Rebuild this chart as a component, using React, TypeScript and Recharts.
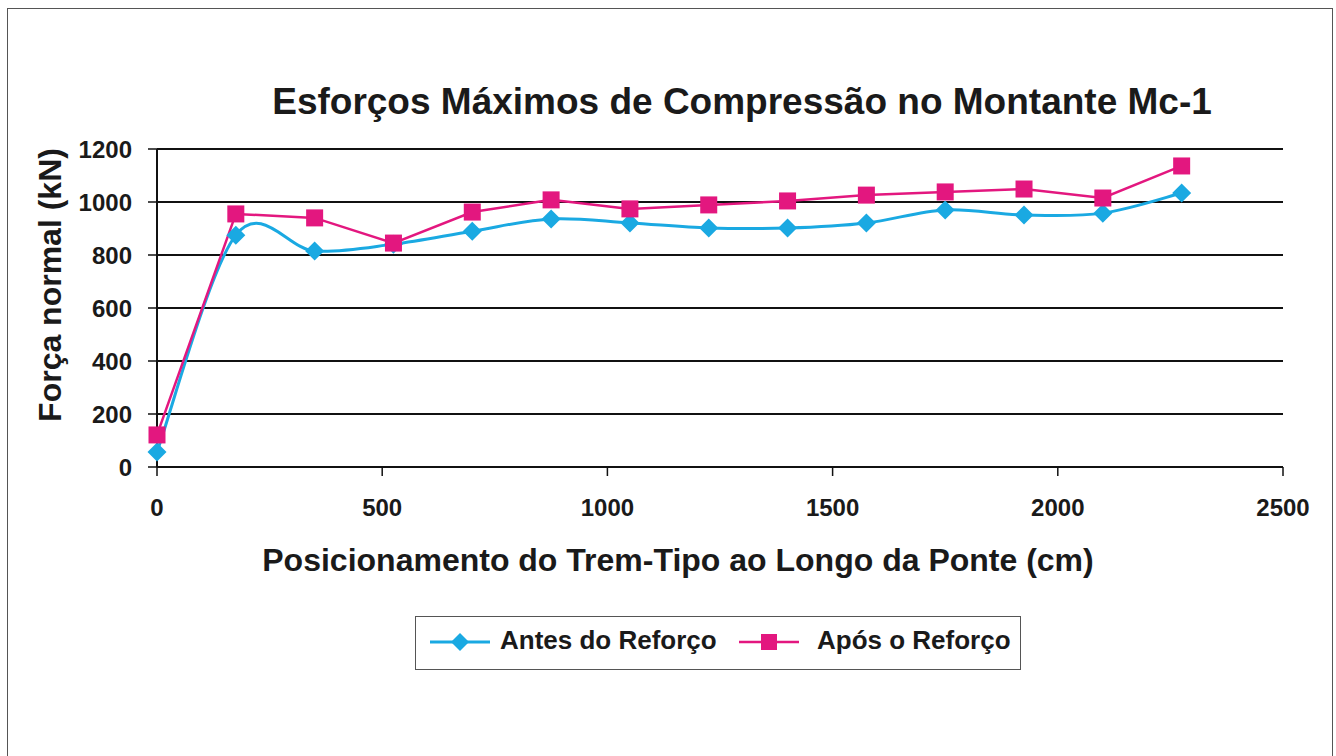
import React from "react";
import { LineChart, Line, XAxis, YAxis, CartesianGrid } from "recharts";

const positions = [0, 175, 350, 525, 700, 875, 1050, 1225, 1400, 1575, 1750, 1925, 2100, 2275];
const antes = [57, 875, 815, 841, 890, 936, 921, 902, 902, 921, 970, 951, 958, 1034];
const apos = [121, 955, 940, 845, 962, 1008, 974, 989, 1004, 1026, 1038, 1049, 1015, 1136];
const xTicks = [0, 500, 1000, 1500, 2000, 2500];
const yTicks = [0, 200, 400, 600, 800, 1000, 1200];

const data = positions.map((x, i) => ({ x, antes: antes[i], apos: apos[i] }));

const FONT = "'Liberation Sans', Arial, sans-serif";
const CYAN = "#1aa9e2";
const MAGENTA = "#e3177f";
const TEXT = "#1a1a1a";

// Catmull-Rom style smoothing (similar to Excel smoothed lines)
const smoothCurve: any = (context: any) => {
  let pts: number[][] = [];
  return {
    areaStart() {},
    areaEnd() {},
    lineStart() {
      pts = [];
    },
    point(x: number, y: number) {
      pts.push([+x, +y]);
    },
    lineEnd() {
      if (!pts.length) return;
      context.moveTo(pts[0][0], pts[0][1]);
      for (let i = 0; i < pts.length - 1; i++) {
        const p0 = pts[i - 1] || pts[i];
        const p1 = pts[i];
        const p2 = pts[i + 1];
        const p3 = pts[i + 2] || pts[i + 1];
        const c1x = p1[0] + (p2[0] - p0[0]) / 6;
        const c1y = p1[1] + (p2[1] - p0[1]) / 6;
        const c2x = p2[0] - (p3[0] - p1[0]) / 6;
        const c2y = p2[1] - (p3[1] - p1[1]) / 6;
        context.bezierCurveTo(c1x, c1y, c2x, c2y, p2[0], p2[1]);
      }
    },
  };
};

const Diamond = (props: any) => {
  const { cx, cy } = props;
  if (cx == null || cy == null) return null;
  const r = 9.5;
  return (
    <path
      d={`M${cx},${cy - r}L${cx + r},${cy}L${cx},${cy + r}L${cx - r},${cy}Z`}
      fill={CYAN}
      stroke="none"
    />
  );
};

const Square = (props: any) => {
  const { cx, cy } = props;
  if (cx == null || cy == null) return null;
  const s = 8.5;
  return <rect x={cx - s} y={cy - s} width={2 * s} height={2 * s} fill={MAGENTA} />;
};

const tickStyle = { fill: TEXT, fontSize: 24, fontWeight: "bold", fontFamily: FONT };

export default function App() {
  return (
    <div
      style={{
        position: "absolute",
        left: 0,
        top: 0,
        width: 1336,
        height: 756,
        background: "#fff",
        fontFamily: FONT,
        overflow: "hidden",
      }}
    >
      <div
        style={{
          position: "absolute",
          left: 7,
          top: 8,
          width: 1326,
          height: 760,
          border: "1.5px solid #555",
          boxSizing: "border-box",
        }}
      />
      <LineChart
        width={1336}
        height={756}
        data={data}
        margin={{ top: 149, right: 53, bottom: 229, left: 97 }}
        style={{ position: "absolute", left: 0, top: 0 }}
      >
        <CartesianGrid vertical={false} stroke="#111" strokeWidth={2} />
        <XAxis
          dataKey="x"
          type="number"
          domain={[0, 2500]}
          ticks={xTicks}
          axisLine={{ stroke: "#111", strokeWidth: 2 }}
          tickLine={{ stroke: "#111", strokeWidth: 1.5 }}
          tickSize={9}
          tick={tickStyle}
          tickMargin={23}
          height={60}
        />
        <YAxis
          type="number"
          domain={[0, 1200]}
          ticks={yTicks}
          width={60}
          axisLine={{ stroke: "#111", strokeWidth: 2 }}
          tickLine={{ stroke: "#111", strokeWidth: 1.5 }}
          tickSize={9}
          tick={tickStyle}
          tickMargin={16}
        />
        <Line
          dataKey="antes"
          type={smoothCurve}
          stroke={CYAN}
          strokeWidth={3}
          dot={<Diamond />}
          isAnimationActive={false}
        />
        <Line
          dataKey="apos"
          type="linear"
          stroke={MAGENTA}
          strokeWidth={2.5}
          dot={<Square />}
          isAnimationActive={false}
        />
      </LineChart>
      <div
        style={{
          position: "absolute",
          left: 0,
          width: 1484,
          top: 81,
          textAlign: "center",
          fontSize: 37,
          fontWeight: "bold",
          color: TEXT,
          whiteSpace: "nowrap",
        }}
      >
        Esforços Máximos de Compressão no Montante Mc-1
      </div>
      <div
        style={{
          position: "absolute",
          left: 0,
          width: 1356,
          top: 542,
          textAlign: "center",
          fontSize: 32,
          fontWeight: "bold",
          color: TEXT,
          whiteSpace: "nowrap",
        }}
      >
        Posicionamento do Trem-Tipo ao Longo da Ponte (cm)
      </div>
      <div style={{ position: "absolute", left: 50, top: 285, width: 0, height: 0 }}>
        <div
          style={{
            position: "absolute",
            left: 0,
            top: 0,
            transform: "translate(-50%, -50%) rotate(-90deg)",
            fontSize: 32,
            fontWeight: "bold",
            color: TEXT,
            whiteSpace: "nowrap",
          }}
        >
          Força normal (kN)
        </div>
      </div>
      <div
        style={{
          position: "absolute",
          left: 415,
          top: 616,
          width: 606,
          height: 54,
          border: "1.5px solid #555",
          boxSizing: "border-box",
          fontSize: 26,
          fontWeight: "bold",
          color: TEXT,
          whiteSpace: "nowrap",
        }}
      >
        <svg width={62} height={30} style={{ position: "absolute", left: 14, top: 10 }}>
          <line x1={0} y1={15} x2={60} y2={15} stroke={CYAN} strokeWidth={3} />
          <path d="M30,6L39,15L30,24L21,15Z" fill={CYAN} />
        </svg>
        <span style={{ position: "absolute", left: 84, top: 8 }}>Antes do Reforço</span>
        <svg width={62} height={30} style={{ position: "absolute", left: 323, top: 10 }}>
          <line x1={0} y1={15} x2={60} y2={15} stroke={MAGENTA} strokeWidth={2.5} />
          <rect x={22} y={7} width={16} height={16} fill={MAGENTA} />
        </svg>
        <span style={{ position: "absolute", left: 401, top: 8 }}>Após o Reforço</span>
      </div>
    </div>
  );
}
